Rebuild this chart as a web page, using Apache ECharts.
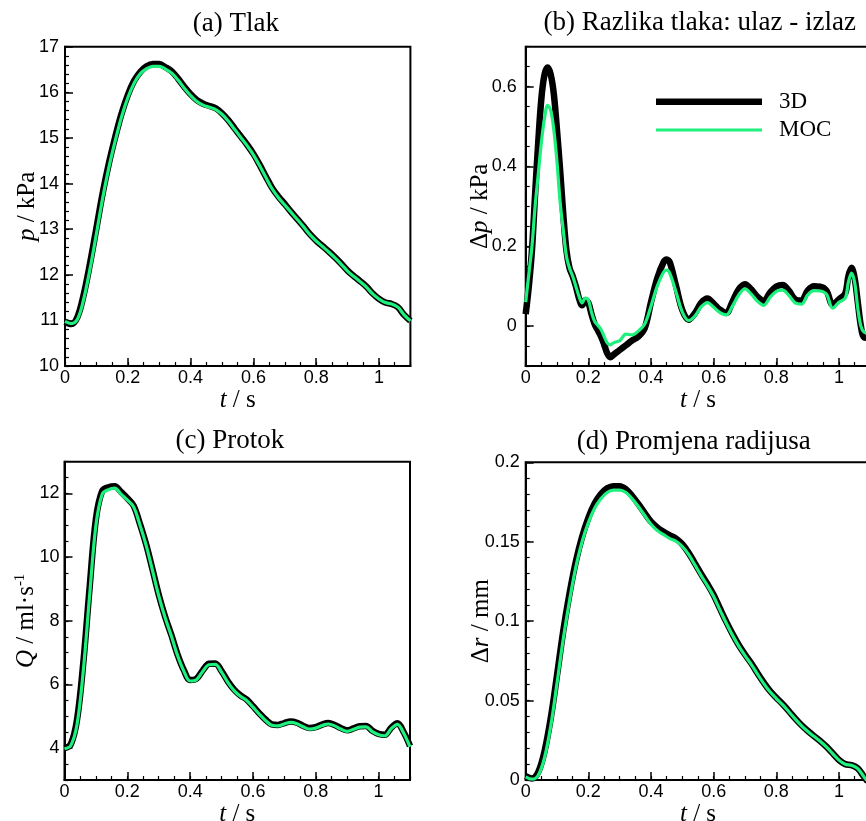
<!DOCTYPE html>
<html>
<head>
<meta charset="utf-8">
<script src="https://cdn.jsdelivr.net/npm/echarts@6/dist/echarts.min.js"></script>
<style>
html,body{margin:0;padding:0;background:#fff;}
#c{width:866px;height:821px;}
</style>
</head>
<body>
<div id="c"></div>
<script>
// ---------- DATA ----------
const tA = [0,0.02,0.04,0.06,0.08,0.10,0.12,0.14,0.16,0.18,0.20,0.22,0.24,0.26,0.28,0.30,0.32,0.34,0.36,0.38,0.40,0.42,0.44,0.46,0.48,0.50,0.52,0.54,0.56,0.58,0.60,0.62,0.64,0.66,0.68,0.70,0.72,0.74,0.76,0.78,0.80,0.82,0.84,0.86,0.88,0.90,0.92,0.94,0.96,0.98,1.00,1.02,1.04,1.06,1.08,1.10];

// (a) pressure, kPa
const pres3D = [10.97,10.92,11.08,11.58,12.26,13.02,13.79,14.45,15.02,15.53,15.94,16.25,16.45,16.57,16.62,16.62,16.55,16.46,16.30,16.12,15.96,15.83,15.75,15.70,15.65,15.54,15.39,15.21,15.03,14.85,14.65,14.41,14.15,13.90,13.71,13.55,13.38,13.22,13.06,12.89,12.75,12.63,12.51,12.38,12.24,12.09,11.97,11.86,11.74,11.59,11.47,11.39,11.36,11.29,11.12,10.99];
const presMOC = [10.98,10.93,11.03,11.48,12.14,12.90,13.68,14.36,14.94,15.46,15.88,16.20,16.41,16.52,16.57,16.57,16.51,16.42,16.27,16.09,15.93,15.80,15.72,15.67,15.62,15.52,15.37,15.19,15.01,14.83,14.63,14.39,14.13,13.88,13.69,13.53,13.37,13.21,13.05,12.88,12.74,12.62,12.50,12.37,12.23,12.08,11.96,11.85,11.73,11.58,11.47,11.39,11.36,11.29,11.12,10.99];

// (b) pressure difference inlet - outlet, kPa
const tB = [0,0.01,0.02,0.03,0.04,0.05,0.06,0.07,0.08,0.09,0.10,0.11,0.12,0.13,0.14,0.15,0.16,0.17,0.18,0.19,0.20,0.21,0.22,0.23,0.24,0.25,0.26,0.27,0.28,0.29,0.30,0.32,0.34,0.36,0.38,0.40,0.42,0.44,0.45,0.46,0.48,0.50,0.52,0.54,0.56,0.58,0.60,0.62,0.64,0.66,0.68,0.70,0.72,0.74,0.76,0.78,0.80,0.82,0.84,0.86,0.88,0.90,0.92,0.94,0.96,0.98,1.00,1.02,1.03,1.04,1.05,1.06,1.07,1.08,1.10];
const dp3D = [0.03,0.10,0.19,0.33,0.46,0.57,0.63,0.648,0.63,0.58,0.49,0.39,0.28,0.19,0.145,0.125,0.10,0.07,0.052,0.065,0.058,0.03,0.005,-0.01,-0.025,-0.045,-0.068,-0.078,-0.072,-0.066,-0.06,-0.048,-0.036,-0.026,-0.005,0.06,0.12,0.16,0.167,0.16,0.10,0.04,0.016,0.032,0.058,0.069,0.056,0.041,0.033,0.061,0.092,0.105,0.092,0.073,0.063,0.084,0.099,0.103,0.089,0.067,0.064,0.089,0.100,0.099,0.089,0.054,0.067,0.082,0.125,0.146,0.12,0.06,0.0,-0.028,-0.03];
const dpMOC = [0.06,0.13,0.20,0.30,0.38,0.46,0.52,0.553,0.54,0.49,0.41,0.31,0.24,0.175,0.145,0.125,0.10,0.075,0.058,0.07,0.065,0.035,0.012,0.002,-0.008,-0.025,-0.042,-0.047,-0.042,-0.039,-0.037,-0.02,-0.022,-0.012,0.005,0.05,0.10,0.135,0.14,0.132,0.085,0.035,0.014,0.025,0.048,0.059,0.047,0.034,0.028,0.05,0.078,0.093,0.08,0.062,0.052,0.072,0.087,0.09,0.077,0.058,0.055,0.078,0.089,0.088,0.08,0.045,0.06,0.07,0.11,0.133,0.11,0.045,0.0,-0.015,-0.02];

// (c) flow rate, ml/s
const flow3D = [4.00,4.12,4.90,6.70,9.05,11.20,12.08,12.20,12.23,12.05,11.85,11.62,11.05,10.40,9.62,8.82,8.14,7.56,6.94,6.45,6.14,6.18,6.44,6.65,6.66,6.42,6.10,5.84,5.66,5.53,5.32,5.10,4.90,4.75,4.73,4.79,4.84,4.80,4.70,4.63,4.66,4.74,4.79,4.73,4.63,4.56,4.62,4.69,4.70,4.55,4.45,4.42,4.64,4.78,4.50,4.07];
const flowMOC = [3.98,4.08,4.75,6.45,8.80,11.00,11.98,12.12,12.17,11.98,11.80,11.58,11.02,10.37,9.59,8.79,8.11,7.53,6.91,6.42,6.11,6.15,6.41,6.62,6.63,6.39,6.07,5.81,5.63,5.50,5.29,5.07,4.87,4.72,4.70,4.76,4.81,4.77,4.67,4.60,4.63,4.71,4.76,4.70,4.60,4.53,4.59,4.66,4.67,4.52,4.42,4.39,4.61,4.75,4.47,4.04];

// (d) radius change, mm
const rad3D = [0.0025,0.001,0.005,0.018,0.039,0.066,0.094,0.1175,0.1375,0.153,0.165,0.174,0.180,0.1836,0.185,0.185,0.183,0.1788,0.1736,0.168,0.1626,0.159,0.1563,0.154,0.152,0.1484,0.143,0.1364,0.1297,0.1234,0.1165,0.108,0.0997,0.092,0.085,0.079,0.0735,0.0672,0.0613,0.056,0.0518,0.0478,0.0434,0.0388,0.0346,0.031,0.0277,0.0246,0.021,0.0168,0.0126,0.010,0.0094,0.0073,0.002,-0.003];
const radMOC = [0.002,0.0005,0.003,0.014,0.034,0.061,0.089,0.113,0.134,0.150,0.162,0.171,0.177,0.181,0.1825,0.1825,0.181,0.177,0.172,0.1665,0.161,0.157,0.1545,0.152,0.1503,0.147,0.142,0.1354,0.1287,0.1224,0.1155,0.1071,0.0988,0.0912,0.0843,0.0783,0.0728,0.0666,0.0607,0.0555,0.0513,0.0474,0.0430,0.0385,0.0343,0.0307,0.0275,0.0244,0.0208,0.0166,0.0125,0.0099,0.0093,0.0072,0.0019,-0.003];

const titles = ['(a) Tlak', '(b) Razlika tlaka: ulaz - izlaz', '(c) Protok', '(d) Promjena radijusa'];
const yNames = ['{i|p} / kPa', 'Δ{i|p} / kPa', '{i|Q} / ml·s{sup|-1}', 'Δ{i|r} / mm'];
const xName = '{i|t} / s';
const seriesNames = ['3D', 'MOC'];

// ---------- LAYOUT / STYLE ----------
const grids = [
  {left: 65, top: 46.7, width: 345.4, height: 319.3},
  {left: 525.7, top: 46.7, width: 344.6, height: 319.3},
  {left: 64.5, top: 461.7, width: 345.5, height: 318.3},
  {left: 525.7, top: 462.3, width: 344.6, height: 317.7}
];
const titlePos = [
  {x: 235.8, top: 10},
  {x: 699.7, top: 9},
  {x: 229.8, top: 427},
  {x: 693.8, top: 428}
];
const yCfg = [
  {min: 10, max: 17, interval: 1, minor: 0.2, gap: 25, margin: 6},
  {min: -0.1, max: 0.7, splitNumber: 4, minor: 0.05, gap: 33, margin: 9},
  {min: 3, max: 13, splitNumber: 5, minor: 0.5, gap: 25, margin: 5},
  {min: 0, max: 0.2, interval: 0.05, minor: 0.01, gap: 32, margin: 6}
];
const SERIF = "'Liberation Serif','Times New Roman',serif";
const SANS = "'Liberation Sans',Arial,Helvetica,sans-serif";
const GREEN = '#1ef07e';

const nameStyle = {
  fontFamily: SERIF, fontSize: 25, color: '#000',
  rich: {
    i: {fontFamily: SERIF, fontSize: 25, fontStyle: 'italic', color: '#000'},
    sup: {fontFamily: SERIF, fontSize: 15, color: '#000', verticalAlign: 'top', padding: [0, 0, 12, 0]}
  }
};

const data3D = [
  tA.map((t, i) => [t, pres3D[i]]),
  tB.map((t, i) => [t, dp3D[i]]),
  tA.map((t, i) => [t, flow3D[i]]),
  tA.map((t, i) => [t, rad3D[i]])
];
const dataMOC = [
  tA.map((t, i) => [t, presMOC[i]]),
  tB.map((t, i) => [t, dpMOC[i]]),
  tA.map((t, i) => [t, flowMOC[i]]),
  tA.map((t, i) => [t, radMOC[i]])
];

const gridOpt = [], xAxes = [], yAxes = [], series = [], title = [];
for (let p = 0; p < 4; p++) {
  const g = grids[p];
  gridOpt.push(Object.assign({show: true, borderColor: '#000', borderWidth: 2, backgroundColor: 'transparent', containLabel: false, outerBoundsMode: 'none'}, g));
  gridOpt.push(Object.assign({show: false, containLabel: false, outerBoundsMode: 'none'}, g));

  // main x axis
  xAxes.push({
    type: 'value', gridIndex: 2 * p, min: 0, max: 1.1, interval: 0.2,
    position: 'bottom',
    axisLine: {show: true, onZero: false, lineStyle: {color: '#000', width: 2}},
    axisTick: {show: true, inside: true, length: 8, lineStyle: {color: '#000', width: 1.5}},
    axisLabel: {show: true, color: '#000', fontFamily: SANS, fontSize: 18, margin: 3, showMaxLabel: false},
    splitLine: {show: false},
    name: xName, nameLocation: 'middle', nameGap: 15, nameTextStyle: nameStyle
  });
  // minor x ticks
  xAxes.push({
    type: 'value', gridIndex: 2 * p + 1, min: 0, max: 1.1, interval: 0.05,
    position: 'bottom',
    axisLine: {show: false, onZero: false}, axisLabel: {show: false}, splitLine: {show: false},
    axisTick: {show: true, inside: true, length: 4, lineStyle: {color: '#000', width: 1.2}}
  });

  const yc = yCfg[p];
  const ymain = {
    type: 'value', gridIndex: 2 * p, min: yc.min, max: yc.max,
    position: 'left',
    axisLine: {show: true, onZero: false, lineStyle: {color: '#000', width: 2}},
    axisTick: {show: true, inside: true, length: 8, lineStyle: {color: '#000', width: 1.5}},
    axisLabel: {show: true, color: '#000', fontFamily: SANS, fontSize: 18, margin: yc.margin},
    splitLine: {show: false},
    name: yNames[p], nameLocation: 'middle', nameRotate: 90, nameGap: yc.gap,
    nameMoveOverlap: false, nameTextStyle: nameStyle
  };
  if (yc.interval) ymain.interval = yc.interval; else ymain.splitNumber = yc.splitNumber;
  if (!yc.interval) { ymain.axisLabel.showMinLabel = false; ymain.axisLabel.showMaxLabel = false; }
  yAxes.push(ymain);
  yAxes.push({
    type: 'value', gridIndex: 2 * p + 1, min: yc.min, max: yc.max, interval: yc.minor,
    position: 'left',
    axisLine: {show: false, onZero: false}, axisLabel: {show: false}, splitLine: {show: false},
    axisTick: {show: true, inside: true, length: 4, lineStyle: {color: '#000', width: 1.2}}
  });

  series.push({
    name: seriesNames[0], type: 'line', xAxisIndex: 2 * p, yAxisIndex: 2 * p,
    data: data3D[p], symbol: 'none', smooth: 0.35, color: '#000',
    lineStyle: {color: '#000', width: 6.5}, z: 2, animation: false
  });
  series.push({
    name: seriesNames[1], type: 'line', xAxisIndex: 2 * p, yAxisIndex: 2 * p,
    data: dataMOC[p], symbol: 'none', smooth: 0.35, color: GREEN,
    lineStyle: {color: GREEN, width: 3.2}, z: 3, animation: false
  });

  title.push({
    text: titles[p], left: titlePos[p].x, textAlign: 'center', top: titlePos[p].top, padding: 0,
    textStyle: {fontFamily: SERIF, fontSize: 27, fontWeight: 'normal', color: '#000'}
  });
}

const legendText = {fontFamily: SERIF, fontSize: 23, color: '#000', padding: [0, 0, 0, 12]};
const option = {
  backgroundColor: '#fff',
  animation: false,
  title: title,
  grid: gridOpt,
  xAxis: xAxes,
  yAxis: yAxes,
  legend: [
    {data: [seriesNames[0]], left: 656, top: 90.2, orient: 'vertical', icon: 'rect', itemWidth: 106, itemHeight: 6.5, padding: 0, selectedMode: false, textStyle: legendText},
    {data: [seriesNames[1]], left: 656, top: 118.5, orient: 'vertical', icon: 'rect', itemWidth: 106, itemHeight: 3, padding: 0, selectedMode: false, textStyle: legendText}
  ],
  series: series
};
const chart = echarts.init(document.getElementById('c'), null, {renderer: 'canvas'});
chart.setOption(option);
</script>
</body>
</html>
